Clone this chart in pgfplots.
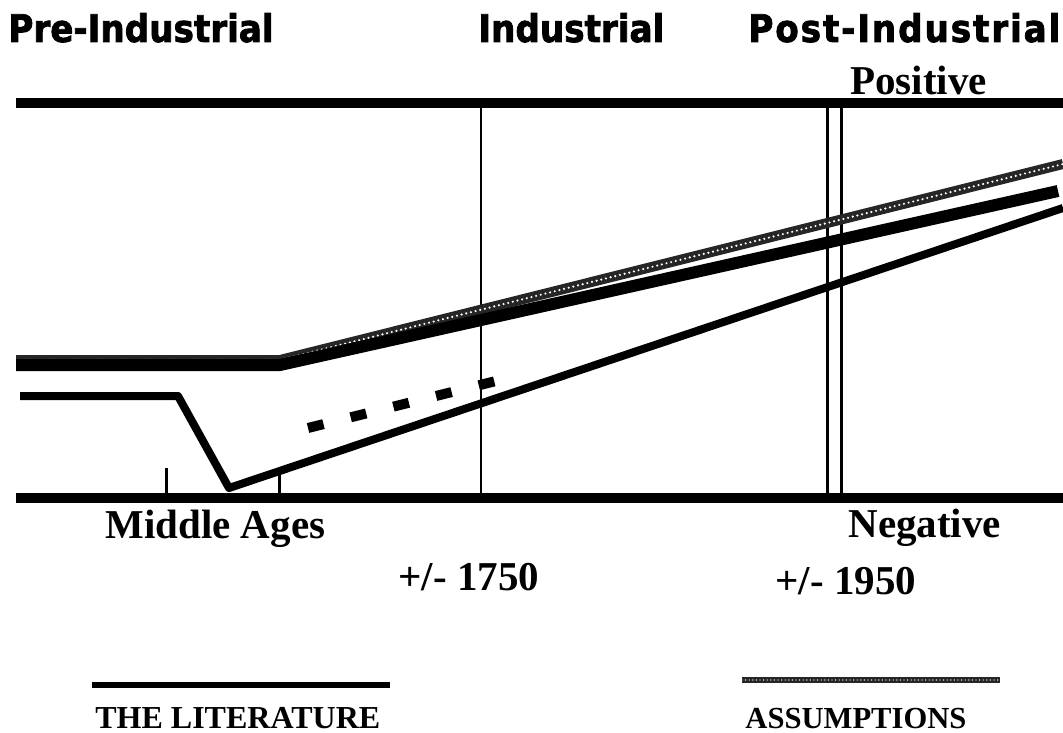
\documentclass[border=0pt]{standalone}
\usepackage{pgfplots}
\pgfplotsset{compat=1.18}
\usepackage{fontspec}
\setmainfont{Liberation Serif}
\newfontfamily\headfont[BoldFeatures={FakeBold=2}]{DejaVu Sans Condensed}

\tikzset{
  stipple/.style={line width=5pt,black!85},
  stipdots/.style={line width=1.2pt,white,line cap=round,dash pattern=on 0pt off 2.4pt},
  head/.style={anchor=base west, inner sep=0, font=\headfont\bfseries\fontsize{19}{19}\selectfont},
  lab/.style={anchor=base west, inner sep=0, font=\bfseries\fontsize{20.5}{20.5}\selectfont},
  key/.style={anchor=base west, inner sep=0, font=\bfseries\fontsize{16}{16}\selectfont},
}

\begin{document}
\begin{tikzpicture}
\begin{axis}[
  scale only axis, width=531.5pt, height=366pt,
  xmin=0, xmax=1063, ymin=0, ymax=732, y dir=reverse,
  hide axis, clip mode=individual,
  every axis plot/.append style={black, mark=none},
]
% frame lines: positive / negative
\addplot[line width=5pt] coordinates {(16,103) (1063,103)};
\addplot[line width=5pt] coordinates {(16,498) (1063,498)};
% period dividers
\addplot[line width=1pt] coordinates {(481,103) (481,498)};
\addplot[line width=1.5pt] coordinates {(827,103) (827,498)};
\addplot[line width=1.5pt] coordinates {(841,103) (841,498)};
% middle ages ticks
\addplot[line width=1.5pt] coordinates {(166,468) (166,498)};
\addplot[line width=1.5pt] coordinates {(279,472) (279,498)};

% assumptions (stippled)
\addplot[stipple] coordinates {(16,360) (280,360) (1063,164)};
\addplot[stipdots] coordinates {(16,360) (280,360) (1063,164)};
% literature, upper
\addplot[line width=6pt] coordinates {(16,365) (280,365) (1058,191)};
% literature, lower
\addplot[line width=4pt, line join=round] coordinates {(20,396) (178,396) (229,488) (1063,208)};
% dashed segment
\addplot[line width=5pt, dash pattern=on 8pt off 14pt] coordinates {(308,428) (516,376)};

% legend samples
\addplot[line width=3pt] coordinates {(92,685) (390,685)};
\addplot[line width=2.8pt,black!85] coordinates {(742,680) (1000,680)};
\addplot[line width=0.7pt,white,line cap=round,dash pattern=on 0pt off 1.8pt] coordinates {(742,680) (1000,680)};

\node[head] at (axis cs:8,42) {Pre-Industrial};
\node[head] at (axis cs:478,42) {Industrial};
\node[head] at (axis cs:748,42) {\addfontfeature{LetterSpace=5}Post-Industrial};

\node[lab] at (axis cs:850,95) {Positive};
\node[lab] at (axis cs:105,538) {Middle Ages};
\node[lab] at (axis cs:848,537) {Negative};
\node[lab] at (axis cs:398,590) {+/- 1750};
\node[lab] at (axis cs:775,594) {+/- 1950};

\node[key] at (axis cs:95,728) {THE LITERATURE};
\node[key, font=\bfseries\fontsize{15.3}{15.3}\selectfont] at (axis cs:745,728) {ASSUMPTIONS};
\end{axis}
\pgfresetboundingbox
\useasboundingbox (current axis.south west) rectangle (current axis.north east);
\end{tikzpicture}
\end{document}
